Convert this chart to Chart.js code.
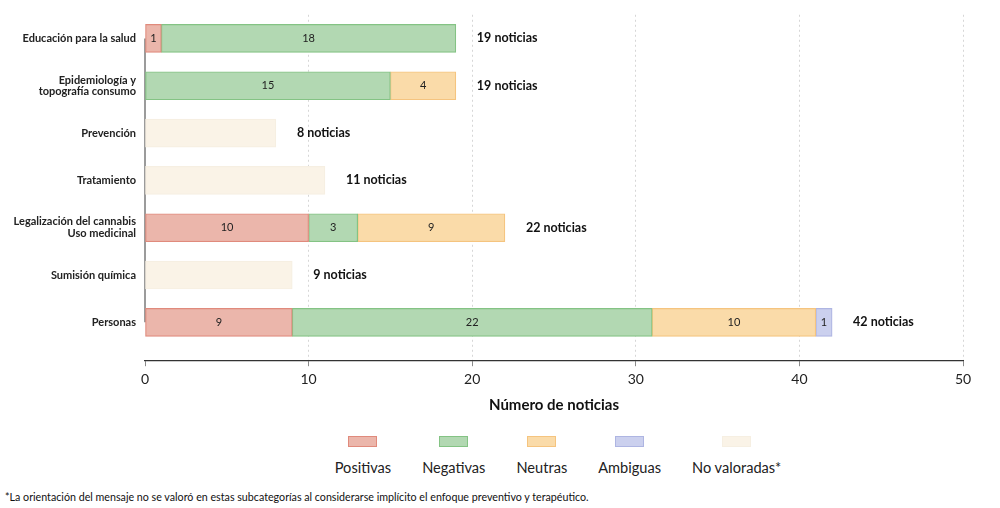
<!DOCTYPE html>
<html>
<head>
<meta charset="utf-8">
<script src="https://cdn.jsdelivr.net/npm/chart.js@4.4.1/dist/chart.umd.min.js"></script>
<style>
  html, body { margin: 0; padding: 0; background: #fff; }
  body { width: 1000px; height: 508px; position: relative; overflow: hidden; font-family: Lato, "Open Sans", sans-serif; }
  #wrap { position: absolute; left: 0; top: 0; width: 1000px; height: 418px; }
  #legend { position: absolute; left: 149px; width: 818px; top: 436px; display: flex; justify-content: center; gap: 31px; }
  .item { display: flex; flex-direction: column; align-items: center; }
  .box { width: 27px; height: 9px; border: 1px solid; }
  .lbl { margin-top: 12px; font-size: 14.6px; color: #222; line-height: 17px; }
  #note { position: absolute; left: 5px; top: 490px; font-size: 10.7px; color: #111; white-space: nowrap; }
</style>
</head>
<body>
<div id="wrap"><canvas id="c"></canvas></div>
<div id="legend"></div>
<div id="note">*La orientación del mensaje no se valoró en estas subcategorías al considerarse implícito el enfoque preventivo y terapéutico.</div>
<script>
const categories = [
  "Educación para la salud",
  ["Epidemiología y", "topografía consumo"],
  "Prevención",
  "Tratamiento",
  ["Legalización del cannabis", "Uso medicinal"],
  "Sumisión química",
  "Personas"
];
const seriesNames = ["Positivas", "Negativas", "Neutras", "Ambiguas", "No valoradas*"];
const positivas   = [1, 0, 0, 0, 10, 0, 9];
const negativas   = [18, 15, 0, 0, 3, 0, 22];
const neutras     = [0, 4, 0, 0, 9, 0, 10];
const ambiguas    = [0, 0, 0, 0, 0, 0, 1];
const noValoradas = [0, 0, 8, 11, 0, 9, 0];
const xTicks = [0, 10, 20, 30, 40, 50];
const totalSuffix = " noticias";
const xTitle = "Número de noticias";

const fills   = ["#EBB6AB", "#B2D8B2", "#FADBA9", "#CBD0EE", "#FAF3E7"];
const borders = ["#E08A7C", "#84C384", "#F5C47F", "#AEB5E2", "#F6EFE2"];
const seriesData = [positivas, negativas, neutras, ambiguas, noValoradas];

const FONT = "Lato, 'Open Sans', sans-serif";

const datasets = seriesData.map((arr, k) => ({
  label: seriesNames[k],
  data: arr.map((v, i) => v > 0 ? { x: v, y: i } : null).filter(d => d),
  backgroundColor: fills[k],
  borderColor: borders[k],
  borderWidth: 1.2,
  borderSkipped: false,
  barThickness: 28,
  clip: false,
  showValue: k < 4
}));

const totals = categories.map((_, i) => seriesData.reduce((s, a) => s + a[i], 0));

const extrasPlugin = {
  id: 'extras',
  beforeDatasetsDraw(chart) {
    const { ctx, scales: { x, y } } = chart;
    ctx.save();
    ctx.strokeStyle = '#7a7a7a';
    ctx.lineWidth = 1.5;
    ctx.beginPath();
    const px = x.getPixelForValue(0);
    ctx.moveTo(px, y.getPixelForValue(0));
    ctx.lineTo(px, y.getPixelForValue(categories.length - 1));
    ctx.stroke();
    ctx.restore();
  },
  afterDatasetsDraw(chart) {
    const { ctx, scales: { x, y } } = chart;
    ctx.save();
    ctx.textBaseline = 'middle';
    ctx.textAlign = 'center';
    ctx.fillStyle = '#222';
    ctx.font = `11px ${FONT}`;
    chart.data.datasets.forEach((ds, di) => {
      if (!ds.showValue) return;
      const meta = chart.getDatasetMeta(di);
      meta.data.forEach((el, j) => {
        const v = ds.data[j].x;
        const cx = (el.x + el.base) / 2;
        ctx.fillText(String(v), cx, el.y);
      });
    });
    ctx.textAlign = 'left';
    ctx.fillStyle = '#111';
    ctx.font = `bold 12.5px ${FONT}`;
    totals.forEach((t, i) => {
      ctx.fillText(t + totalSuffix, x.getPixelForValue(t) + 21, y.getPixelForValue(i));
    });
    ctx.restore();
  }
};

new Chart(document.getElementById('c'), {
  type: 'bar',
  data: { datasets },
  options: {
    indexAxis: 'y',
    responsive: true,
    maintainAspectRatio: false,
    animation: false,
    layout: { padding: { top: 9, right: 37, bottom: 4, left: 0 } },
    plugins: { legend: { display: false }, tooltip: { enabled: false } },
    scales: {
      x: {
        type: 'linear',
        stacked: true,
        min: 0,
        max: 50,
        afterBuildTicks: (s) => { s.ticks = xTicks.map(v => ({ value: v })); },
        grid: {
          color: (c) => (c.tick && c.tick.value === 0) ? 'rgba(0,0,0,0)' : '#d6d6d6',
          tickColor: '#8a8a8a',
          tickLength: 6,
          tickBorderDash: [],
          lineWidth: 1
        },
        border: { display: true, color: '#333', width: 1.2, dash: [2, 3] },
        ticks: { color: '#222', font: { family: FONT, size: 14 }, padding: 5 },
        title: { display: true, text: xTitle, color: '#111', font: { family: FONT, size: 15, weight: 'bold' }, padding: { top: 3, bottom: 0 } }
      },
      y: {
        type: 'linear',
        stacked: true,
        reverse: true,
        offset: false,
        min: -0.5,
        max: 6.8,
        afterBuildTicks: (s) => { s.ticks = categories.map((_, i) => ({ value: i })); },
        afterFit: (s) => { s.width = 145; },
        grid: { display: false, drawTicks: false, offset: false },
        border: { display: false },
        ticks: {
          padding: 9,
          color: '#222',
          font: { family: FONT, size: 11, weight: 'bold', lineHeight: 1.05 },
          callback: (v) => categories[v] !== undefined ? categories[v] : ''
        }
      }
    }
  },
  plugins: [extrasPlugin]
});

const legend = document.getElementById('legend');
seriesNames.forEach((n, k) => {
  const it = document.createElement('div');
  it.className = 'item';
  const b = document.createElement('div');
  b.className = 'box';
  b.style.background = fills[k];
  b.style.borderColor = borders[k];
  const l = document.createElement('div');
  l.className = 'lbl';
  l.textContent = n;
  it.appendChild(b); it.appendChild(l);
  legend.appendChild(it);
});
</script>
</body>
</html>
